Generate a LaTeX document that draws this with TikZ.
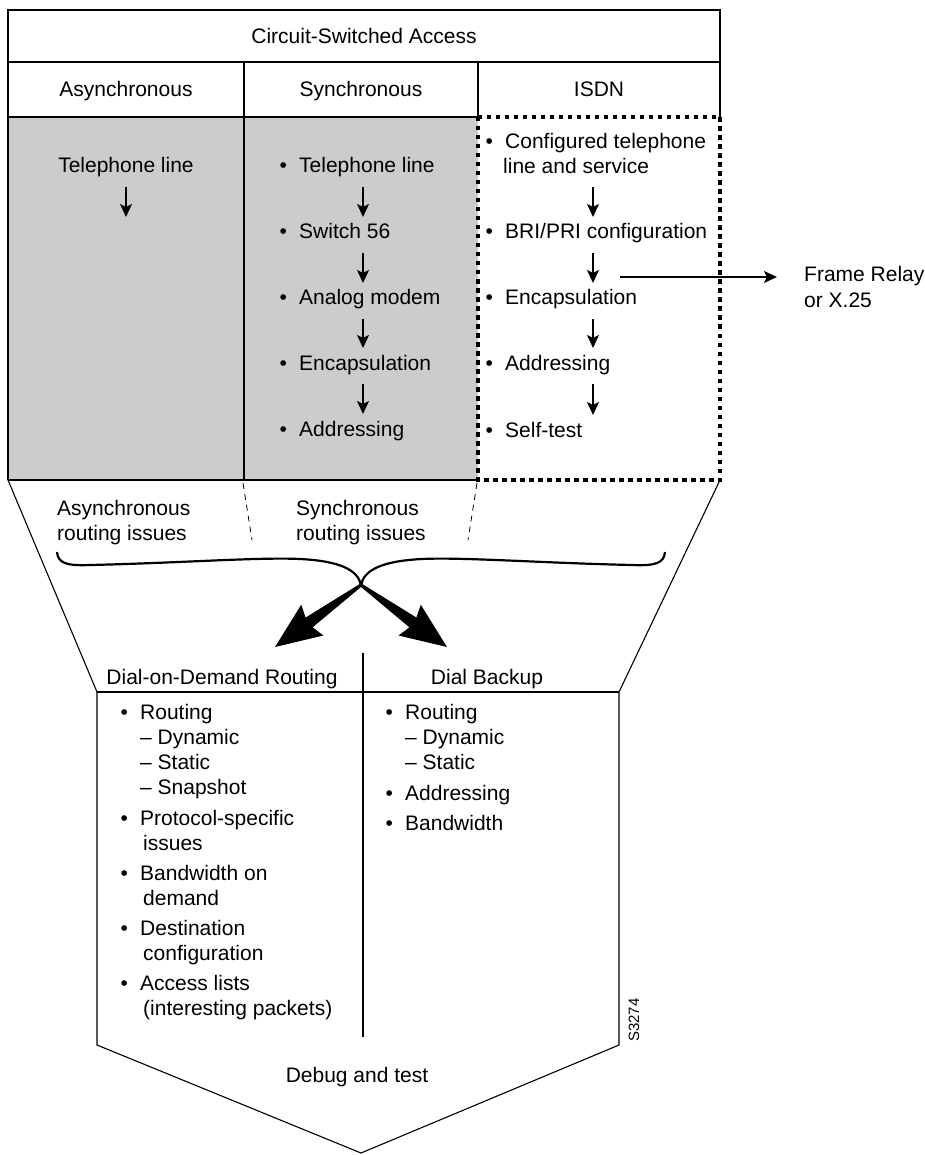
\documentclass[tikz,border=0pt]{standalone}
\usepackage{fontspec}
\setmainfont{Liberation Sans}
\usetikzlibrary{arrows.meta,calc}
\definecolor{cellgray}{gray}{0.8}
\newcommand\bl{\makebox[19.5pt][l]{•}}
\newcommand\ind{\hspace*{19.5pt}}
\newcommand\indd{\hspace*{22.5pt}}
\newcommand\lns[1]{\begin{tabular}[t]{@{}l@{}}#1\end{tabular}}
\begin{document}
\begin{tikzpicture}[x=1pt,y=-1pt,
  txt/.style={font=\fontsize{21}{25}\selectfont, inner sep=0pt},
  frame/.style={line width=1.3pt},
  thinln/.style={line width=1.1pt, line join=miter},
  sarrow/.style={line width=1.3pt, -{Stealth[length=13pt,width=12pt,inset=3pt]}},
  dotbox/.style={line width=4pt, dash pattern=on 4.5pt off 4.5pt},
  dashln/.style={line width=0.8pt, dash pattern=on 6pt off 5pt},
  bracel/.style={line width=2.2pt},
]
\useasboundingbox (0,0) rectangle (925,1155);

% ---------- top table ----------
\fill[cellgray] (8,117) rectangle (478,480);
\draw[frame] (8,480) -- (8,10) -- (720,10) -- (720,117);
\draw[frame] (8,62) -- (720,62);
\draw[frame] (8,117) -- (478,117);
\draw[frame] (244,62) -- (244,480);
\draw[frame] (478,62) -- (478,117);
\draw[frame] (8,480) -- (478,480);
\draw[dotbox] (478,117) rectangle (720,480);

\node[txt, anchor=base] (csa) at (364,43.5) {Circuit-Switched Access};
\node[txt, anchor=base] (hasync) at (126,97) {Asynchronous};
\node[txt, anchor=base] (hsync) at (361,97) {Synchronous};
\node[txt, anchor=base] (hisdn) at (599,97) {ISDN};

% asynchronous column
\node[txt, anchor=base] (a1) at (126,173) {Telephone line};
\coordinate (ax1) at (126,0);
\draw[sarrow] ($(a1.base -| ax1)+(0,14)$) -- ($(a1.base -| ax1)+(0,44)$);

% synchronous column
\coordinate (ax2) at (363,0);
\node[txt, anchor=base west] (s1) at (279.5,173) {\bl Telephone line};
\node[txt, anchor=base west] (s2) at (279.5,239) {\bl Switch 56};
\node[txt, anchor=base west] (s3) at (279.5,305) {\bl Analog modem};
\node[txt, anchor=base west] (s4) at (279.5,370) {\bl Encapsulation};
\node[txt, anchor=base west] (s5) at (279.5,436) {\bl Addressing};
\foreach \p/\q in {s1/s2,s2/s3,s3/s4,s4/s5}
  \draw[sarrow] ($(\p.base -| ax2)+(0,14)$) -- ($(\q.base -| ax2)+(0,-22)$);

% ISDN column
\coordinate (ax3) at (593,0);
\node[txt, anchor=base west] (i1) at (485.5,149) {\lns{\bl Configured telephone\\\hspace*{17.5pt}line and service}};
\node[txt, anchor=base west] (i2) at (485.5,239) {\bl BRI/PRI configuration};
\node[txt, anchor=base west] (i3) at (485.5,305) {\bl Encapsulation};
\node[txt, anchor=base west] (i4) at (485.5,370) {\bl Addressing};
\node[txt, anchor=base west] (i5) at (485.5,437) {\bl Self-test};
\draw[sarrow] ($(i1.base -| ax3)+(0,38)$) -- ($(i1.base -| ax3)+(0,68)$);
\foreach \p/\q in {i2/i3,i3/i4,i4/i5}
  \draw[sarrow] ($(\p.base -| ax3)+(0,14)$) -- ($(\q.base -| ax3)+(0,-22)$);

% Frame relay
\node[txt, anchor=base west] (fr) at (804,282) {\lns{Frame Relay\\or X.25}};
\coordinate (frs) at (620,277);
\draw[sarrow] (frs) -- (777,277);

% ---------- funnel ----------
\draw[thinln] (8,480) -- (97,692) -- (97,1045) -- (361,1153) -- (619,1045) -- (619,692) -- (720,480);
\draw[thinln] (97,692) -- (619,692);
\draw[thinln] (363,653) -- (363,1037);

\draw[dashln] (243,483) -- (252,540);
\draw[dashln] (477,483) -- (468,540);

\node[txt, anchor=base west] (ari) at (57,515) {\lns{Asynchronous\\routing issues}};
\node[txt, anchor=base west] (sri) at (296,515) {\lns{Synchronous\\routing issues}};

% brace
\coordinate (cusp) at (361,585);
\draw[bracel] (57,552) .. controls (58,563) and (66,566) .. (90,565)
  .. controls (180,563) and (260,557) .. (300,559)
  .. controls (340,561) and (358,570) .. (cusp);
\draw[bracel] (665,552) .. controls (664,563) and (656,566) .. (632,565)
  .. controls (542,563) and (462,557) .. (422,559)
  .. controls (382,561) and (364,570) .. (cusp);

% fat arrows
\begin{scope}[shift={(cusp)}, rotate=215.8]
  \fill (0,1.5) -- (64,6) -- (60,19) -- (106,0) -- (60,-19) -- (64,-6) -- (0,-1.5) -- cycle;
\end{scope}
\begin{scope}[shift={(cusp)}, rotate=-35.8]
  \fill (0,1.5) -- (64,6) -- (60,19) -- (106,0) -- (60,-19) -- (64,-6) -- (0,-1.5) -- cycle;
\end{scope}

% lower headers
\node[txt, anchor=base] (ddr) at (222,684) {Dial-on-Demand Routing};
\node[txt, anchor=base] (dbk) at (487,684) {Dial Backup};

% left list
\node[txt, anchor=base west] (l1) at (120.5,719) {\lns{\bl Routing\\\ind -- Dynamic\\\ind -- Static\\\ind -- Snapshot}};
\node[txt, anchor=base west] (l2) at (120.5,825) {\lns{\bl Protocol-specific\\\indd issues}};
\node[txt, anchor=base west] (l3) at (120.5,880) {\lns{\bl Bandwidth on\\\indd demand}};
\node[txt, anchor=base west] (l4) at (120.5,935) {\lns{\bl Destination\\\indd configuration}};
\node[txt, anchor=base west] (l5) at (120.5,990) {\lns{\bl Access lists\\\indd (interesting packets)}};

% right list
\node[txt, anchor=base west] (r1) at (385.5,719) {\lns{\bl Routing\\\ind -- Dynamic\\\ind -- Static}};
\node[txt, anchor=base west] (r2) at (385.5,800) {\bl Addressing};
\node[txt, anchor=base west] (r3) at (385.5,830) {\bl Bandwidth};

\node[txt, anchor=base] (dbg) at (357,1082) {Debug and test};
\node[inner sep=0pt, font=\fontsize{15}{18}\selectfont, rotate=90] (code) at (634,1020) {S3274};
\end{tikzpicture}
\end{document}
